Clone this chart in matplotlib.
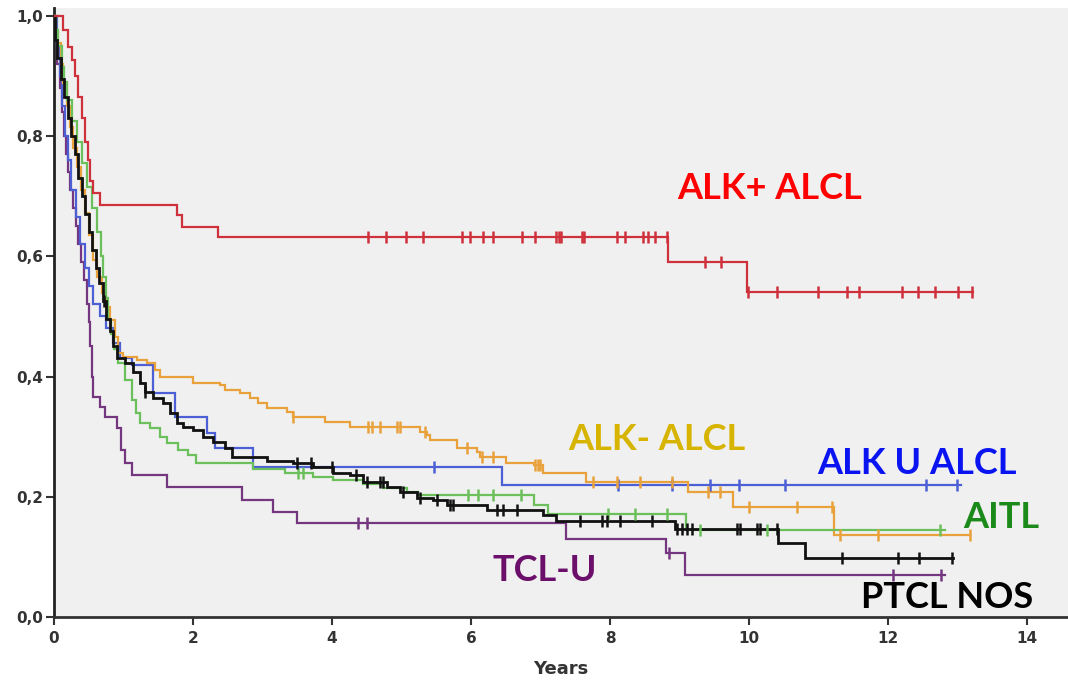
import numpy as np
import matplotlib
matplotlib.use("Agg")
import matplotlib.pyplot as plt

# ---------------- data (step-post breakpoints, survival) ----------------
alkpos_t = [0, 0.13, 0.2, 0.26, 0.3, 0.35, 0.4, 0.45, 0.49, 0.52, 0.56, 0.66, 1.77, 1.84, 2.36, 8.83, 9.97, 13.22]
alkpos_s = [1.0, 0.977, 0.948, 0.927, 0.90, 0.865, 0.83, 0.79, 0.76, 0.725, 0.705, 0.686, 0.669, 0.649, 0.632, 0.59, 0.541, 0.541]
alkpos_c = [4.52, 4.78, 5.06, 5.31, 5.87, 5.99, 6.17, 6.32, 6.73, 6.92, 7.22, 7.27, 7.30, 7.60, 7.62,
            8.10, 8.22, 8.47, 8.55, 8.65, 8.82, 9.37, 9.60, 9.99, 10.40, 10.99, 11.41, 11.58, 12.20,
            12.43, 12.68, 13.01, 13.21]

alkneg_t = [0, 0.03, 0.06, 0.1, 0.13, 0.18, 0.23, 0.28, 0.33, 0.39, 0.45, 0.5, 0.56, 0.62, 0.69, 0.75, 0.81, 0.88, 0.92, 1.0,
            1.19, 1.34, 1.45, 1.53, 2.0, 2.39, 2.46, 2.68, 2.82, 2.94, 3.06, 3.35, 3.44, 3.9, 4.26, 5.27, 5.37, 5.41, 5.8, 6.09,
            6.13, 6.5, 6.9, 7.03, 7.66, 9.12, 9.77, 11.22, 13.18]
alkneg_s = [1.0, 0.975, 0.955, 0.92, 0.889, 0.85, 0.815, 0.78, 0.749, 0.71, 0.672, 0.635, 0.594, 0.565, 0.539, 0.515, 0.494, 0.466, 0.439, 0.433,
            0.428, 0.423, 0.411, 0.4, 0.389, 0.386, 0.378, 0.373, 0.364, 0.356, 0.348, 0.341, 0.333, 0.324, 0.316, 0.308, 0.303, 0.295, 0.281, 0.275,
            0.266, 0.256, 0.253, 0.24, 0.225, 0.208, 0.183, 0.136, 0.136]
alkneg_c = [3.44, 4.52, 4.58, 4.69, 4.93, 4.98, 5.34, 5.94, 6.16, 6.32, 6.92, 6.96, 7.0, 7.76, 8.1, 8.43,
            8.89, 9.41, 9.58, 10.0, 10.69, 11.2, 11.31, 11.86, 13.18]

alku_t = [0, 0.04, 0.08, 0.12, 0.16, 0.2, 0.25, 0.32, 0.38, 0.44, 0.5, 0.56, 0.66, 0.75, 0.85, 0.95, 1.12, 1.43, 1.74, 2.2, 2.32, 2.87, 6.44, 13.05]
alku_s = [1.0, 0.95, 0.9, 0.85, 0.8, 0.76, 0.71, 0.665, 0.62, 0.58, 0.55, 0.52, 0.50, 0.48, 0.455, 0.43, 0.419, 0.373, 0.333, 0.306, 0.281, 0.25, 0.22, 0.22]
alku_c = [5.47, 8.11, 8.89, 9.44, 9.86, 10.52, 12.55, 13.0]

aitl_t = [0, 0.03, 0.06, 0.11, 0.15, 0.19, 0.26, 0.33, 0.4, 0.47, 0.55, 0.62, 0.67, 0.71, 0.75, 0.78, 0.82, 0.86, 0.92, 1.02,
          1.12, 1.18, 1.24, 1.38, 1.53, 1.62, 1.79, 1.93, 2.05, 2.87, 3.32, 3.73, 4.02, 4.45, 4.73, 5.08, 5.24, 6.9, 7.11, 9.1, 12.82]
aitl_s = [1.0, 0.977, 0.95, 0.915, 0.89, 0.86, 0.825, 0.79, 0.755, 0.715, 0.68, 0.64, 0.6, 0.566, 0.53, 0.494, 0.47, 0.445, 0.423, 0.394,
          0.361, 0.34, 0.323, 0.314, 0.3, 0.29, 0.278, 0.27, 0.256, 0.247, 0.24, 0.233, 0.228, 0.222, 0.215, 0.208, 0.203, 0.186, 0.172, 0.145, 0.145]
aitl_c = [3.51, 3.58, 5.96, 6.1, 6.32, 6.72, 7.97, 8.36, 8.82, 9.3, 10.26, 12.75]

ptcl_t = [0, 0.01, 0.05, 0.1, 0.15, 0.2, 0.25, 0.3, 0.35, 0.4, 0.45, 0.5, 0.55, 0.6, 0.65, 0.7, 0.75, 0.8, 0.85, 0.9,
          1.02, 1.14, 1.24, 1.31, 1.43, 1.57, 1.67, 1.77, 1.86, 2.0, 2.14, 2.29, 2.46, 2.56, 3.06, 3.44, 3.73, 4.02, 4.26, 4.45,
          4.79, 4.98, 5.22, 5.45, 5.65, 6.23, 7.04, 7.23, 8.94, 10.42, 10.81, 12.94]
ptcl_s = [1.0, 0.96, 0.93, 0.895, 0.865, 0.83, 0.8, 0.77, 0.73, 0.7, 0.67, 0.64, 0.61, 0.58, 0.555, 0.525, 0.495, 0.475, 0.45, 0.43,
          0.423, 0.408, 0.389, 0.374, 0.364, 0.356, 0.339, 0.323, 0.316, 0.311, 0.3, 0.291, 0.281, 0.266, 0.26, 0.256, 0.25, 0.24, 0.236, 0.225,
          0.217, 0.208, 0.198, 0.195, 0.186, 0.178, 0.17, 0.16, 0.146, 0.123, 0.098, 0.098]
ptcl_c = [0.72, 1.31, 3.5, 3.7, 4.0, 4.35, 4.5, 4.69, 4.73, 5.02, 5.27, 5.51, 5.7, 5.74, 6.37, 6.46, 6.66,
          7.57, 7.88, 7.96, 8.14, 8.6, 8.96, 9.04, 9.11, 9.18, 9.83, 9.87, 10.12, 10.16, 10.4,
          11.34, 12.14, 12.45, 12.92]

tclu_t = [0, 0.02, 0.05, 0.08, 0.11, 0.14, 0.17, 0.2, 0.23, 0.27, 0.31, 0.35, 0.39, 0.43, 0.47, 0.5, 0.52, 0.55, 0.56, 0.66,
          0.73, 0.9, 0.97, 1.02, 1.12, 1.62, 2.7, 3.15, 3.49, 7.37, 8.81, 9.08, 12.82]
tclu_s = [1.0, 0.96, 0.92, 0.88, 0.84, 0.8, 0.77, 0.74, 0.71, 0.68, 0.65, 0.62, 0.59, 0.56, 0.52, 0.49, 0.45, 0.40, 0.366, 0.349,
          0.333, 0.314, 0.278, 0.256, 0.236, 0.216, 0.195, 0.175, 0.157, 0.13, 0.106, 0.07, 0.07]
tclu_c = [4.37, 4.50, 8.85, 12.07, 12.76]

y_ticks = [0.0, 0.2, 0.4, 0.6, 0.8, 1.0]
y_tick_labels = ["0,0", "0,2", "0,4", "0,6", "0,8", "1,0"]
x_ticks = [0, 2, 4, 6, 8, 10, 12, 14]
x_label = "Years"

series = [
    # name, t, s, censored, line colour, label colour, label position (data coords)
    ("TCL-U", tclu_t, tclu_s, tclu_c, "#74367f", "#6b0f6b", (7.06, 0.078)),
    ("ALK U ALCL", alku_t, alku_s, alku_c, "#4c5fd4", "#0a14f0", (12.41, 0.256)),
    ("ALK- ALCL", alkneg_t, alkneg_s, alkneg_c, "#e9a23b", "#d6b400", (8.68, 0.295)),
    ("AITL", aitl_t, aitl_s, aitl_c, "#6cc05c", "#1b8a1b", (13.63, 0.166)),
    ("PTCL NOS", ptcl_t, ptcl_s, ptcl_c, "#111111", "#000000", (12.85, 0.032)),
    ("ALK+ ALCL", alkpos_t, alkpos_s, alkpos_c, "#cf313c", "#ff0000", (10.3, 0.712)),
]

# ---------------- figure ----------------
fig = plt.figure(figsize=(10.68, 6.8), dpi=100)
fig.patch.set_facecolor("white")
ax = fig.add_axes([54 / 1068, 63 / 680, (1068 - 54) / 1068, (617 - 8) / 680])
ax.set_facecolor("#f0f0f0")

for name, t, s, c, lc, tc, pos in series:
    t = np.asarray(t, float)
    s = np.asarray(s, float)
    lw = 2.0 if name == "PTCL NOS" else 1.6
    ax.step(t, s, where="post", color=lc, lw=lw, zorder=3, solid_joinstyle="miter")
    c = np.asarray(c, float)
    idx = np.clip(np.searchsorted(t, c, side="right") - 1, 0, len(s) - 1)
    ax.plot(c, s[idx], linestyle="none", marker="|", color=lc, markersize=9, mew=1.8, zorder=4)
    ax.text(pos[0], pos[1], name, color=tc, fontsize=26, fontweight="bold",
            family=["Lato", "DejaVu Sans"], ha="center", va="center", zorder=5)

ax.set_xlim(0, 14.59)
ax.set_ylim(0, 1.013)
ax.set_yticks(y_ticks)
ax.set_yticklabels(y_tick_labels)
ax.set_xticks(x_ticks)
ax.tick_params(axis="both", direction="out", length=6, width=1.5, color="#333333",
               labelsize=11, labelcolor="#333333")
for lab in ax.get_xticklabels() + ax.get_yticklabels():
    lab.set_fontweight("bold")
ax.tick_params(axis="x", pad=4)
ax.tick_params(axis="y", pad=2)

for side in ["top", "right"]:
    ax.spines[side].set_visible(False)
ax.spines["left"].set_color("#222222")
ax.spines["left"].set_linewidth(2)
ax.spines["bottom"].set_color("#333333")
ax.spines["bottom"].set_linewidth(2)

ax.set_xlabel(x_label, fontsize=13, fontweight="bold", color="#333333", labelpad=10)

fig.savefig("out.png", dpi=100, facecolor="white")
